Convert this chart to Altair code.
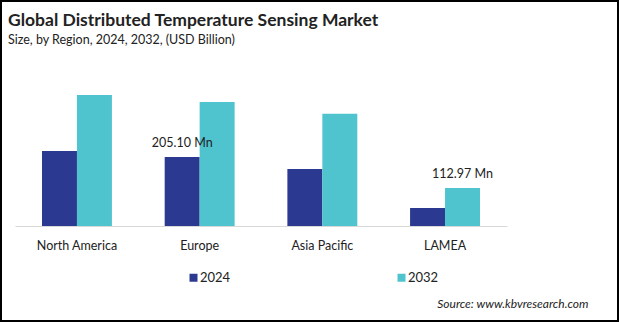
import altair as alt
import pandas as pd

regions = ["North America", "Europe", "Asia Pacific", "LAMEA"]
years = ["2024", "2032"]
values_2024 = [223.0, 205.10, 169.0, 53.5]
values_2032 = [389.0, 368.0, 333.0, 112.97]
labels_2024 = ["", "205.10 Mn", "", ""]
labels_2032 = ["", "", "", "112.97 Mn"]
colors = ["#2B3990", "#4FC4CF"]

rows = []
for i, r in enumerate(regions):
    rows.append({"region": r, "year": "2024", "value": values_2024[i], "label": labels_2024[i]})
    rows.append({"region": r, "year": "2032", "value": values_2032[i], "label": labels_2032[i]})
df = pd.DataFrame(rows)

FONT = "Lato"

base = alt.Chart(df).encode(
    x=alt.X(
        "region:N",
        sort=regions,
        scale=alt.Scale(paddingInner=0.43, paddingOuter=0.22),
        axis=alt.Axis(
            title="Source: www.kbvresearch.com",
            titleFont=FONT,
            titleFontStyle="italic",
            titleFontWeight="normal",
            titleFontSize=12,
            titleColor="#222222",
            titleX=573,
            titleY=77,
            titleAlign="right",
            titleBaseline="middle",
            labelFont=FONT,
            labelFontSize=12.5,
            labelColor="#222222",
            labelAngle=0,
            labelPadding=13,
            ticks=False,
            domainColor="#d9d9d9",
            domainWidth=1,
        ),
    ),
    xOffset=alt.XOffset("year:N", sort=years, scale=alt.Scale(paddingInner=0, paddingOuter=0)),
    y=alt.Y("value:Q", scale=alt.Scale(domain=[0, 493]), axis=None),
)

bars = base.mark_bar().encode(
    color=alt.Color(
        "year:N",
        sort=years,
        scale=alt.Scale(domain=years, range=colors),
        legend=alt.Legend(
            orient="none",
            legendX=172,
            legendY=211,
            direction="horizontal",
            title=None,
            symbolType="square",
            symbolSize=64,
            symbolStrokeWidth=0,
            labelFont=FONT,
            labelFontSize=13,
            labelColor="#222222",
            labelOffset=0,
            columnPadding=164,
        ),
    )
)

text = base.mark_text(
    font=FONT, fontSize=12.5, color="#222222", baseline="alphabetic", dy=-10
).encode(text="label:N")

frame = alt.Chart(pd.DataFrame({"a": [0]})).mark_rect(
    fillOpacity=0, stroke="black", strokeWidth=2
).encode(
    x=alt.value(-14), x2=alt.value(603), y=alt.value(-59), y2=alt.value(261)
)

chart = alt.layer(bars, text, frame).properties(
    width=492,
    height=166,
    background="white",
    padding={"left": 15, "top": 60, "right": 112, "bottom": 96},
    autosize=alt.AutoSizeParams(type="none"),
    title=alt.Title(
        "Global Distributed Temperature Sensing Market",
        subtitle="Size, by Region, 2024, 2032, (USD Billion)",
        anchor="start",
        frame="group",
        dx=-7,
        dy=46,
        offset=0,
        font=FONT,
        fontSize=17.5,
        fontWeight="bold",
        color="#222222",
        subtitleFont=FONT,
        subtitleFontSize=12.5,
        subtitleColor="#222222",
        subtitlePadding=4,
    ),
).configure_view(stroke="transparent")

chart.save("out.html", embed_options={"renderer": "svg", "actions": False})
